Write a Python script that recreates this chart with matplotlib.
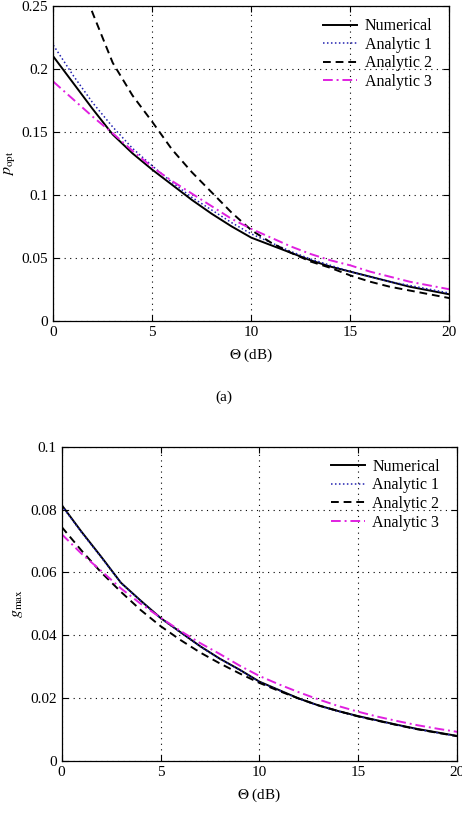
import matplotlib
matplotlib.use('Agg')
import matplotlib.pyplot as plt

# Theta (dB)
theta = [0, 1, 2, 3, 4, 5, 6, 7, 8, 9, 10, 11, 12, 13, 14, 15, 16, 17, 18, 19, 20]

# (a) p_opt
p_num = [0.210, 0.189, 0.168, 0.148, 0.133, 0.120, 0.108, 0.096, 0.085, 0.075, 0.066,
         0.060, 0.054, 0.048, 0.043, 0.039, 0.035, 0.031, 0.027, 0.024, 0.021]
p_an1 = [0.219, 0.195, 0.173, 0.154, 0.137, 0.123, 0.110, 0.098, 0.088, 0.078, 0.069,
         0.062, 0.055, 0.049, 0.044, 0.039, 0.035, 0.031, 0.028, 0.025, 0.022]
p_an2 = [0.330, 0.285, 0.244, 0.205, 0.179, 0.158, 0.136, 0.118, 0.102, 0.086, 0.072,
         0.062, 0.054, 0.047, 0.042, 0.036, 0.031, 0.027, 0.024, 0.021, 0.018]
p_an3 = [0.190, 0.176, 0.162, 0.149, 0.135, 0.122, 0.111, 0.101, 0.091, 0.081, 0.073,
         0.066, 0.059, 0.053, 0.048, 0.044, 0.039, 0.035, 0.031, 0.028, 0.025]

# (b) g_max
g_num = [0.0815, 0.0730, 0.0650, 0.0567, 0.0510, 0.0455, 0.0410, 0.0365, 0.0325, 0.0290, 0.0252,
         0.0225, 0.0198, 0.0176, 0.0158, 0.0142, 0.0128, 0.0114, 0.0101, 0.0090, 0.0079]
g_an1 = [0.0813, 0.0728, 0.0648, 0.0566, 0.0509, 0.0454, 0.0409, 0.0364, 0.0324, 0.0289, 0.0251,
         0.0224, 0.0197, 0.0175, 0.0157, 0.0141, 0.0127, 0.0113, 0.0100, 0.0089, 0.0078]
g_an2 = [0.0745, 0.0670, 0.0600, 0.0538, 0.0480, 0.0429, 0.0385, 0.0345, 0.0310, 0.0278, 0.0248,
         0.0222, 0.0198, 0.0176, 0.0158, 0.0141, 0.0127, 0.0113, 0.0100, 0.0089, 0.0078]
g_an3 = [0.0722, 0.0660, 0.0605, 0.0549, 0.0500, 0.0456, 0.0414, 0.0375, 0.0340, 0.0303, 0.0270,
         0.0243, 0.0218, 0.0195, 0.0174, 0.0156, 0.0140, 0.0126, 0.0113, 0.0102, 0.0092]

labels = ['Numerical', 'Analytic 1', 'Analytic 2', 'Analytic 3']

plt.rcParams['font.family'] = 'Liberation Serif'
plt.rcParams['mathtext.fontset'] = 'stix'
plt.rcParams['axes.linewidth'] = 0.9

fig = plt.figure(figsize=(4.62, 8.30), dpi=100)
ax1 = fig.add_axes([0.1154, 0.6136, 0.857, 0.379])
ax2 = fig.add_axes([0.1335, 0.0835, 0.856, 0.378])

c_blue = '#2020b0'
c_mag = '#e020e0'


def draw(ax, num, an1, an2, an3, ymax, yticks, yticklabels, ylabel):
    ax.plot(theta, num, color='black', linestyle='-', linewidth=1.4, label=labels[0])
    ax.plot(theta, an1, color=c_blue, linestyle=(0, (1, 1.6)), linewidth=1.1, label=labels[1])
    ax.plot(theta, an2, color='black', linestyle=(0, (4, 2.5)), linewidth=1.4, label=labels[2])
    ax.plot(theta, an3, color=c_mag, linestyle=(0, (5, 2, 1, 2)), linewidth=1.4, label=labels[3])
    ax.set_xlim(0, 20)
    ax.set_ylim(0, ymax)
    ax.set_xticks([0, 5, 10, 15, 20])
    ax.set_yticks(yticks)
    ax.set_yticklabels(yticklabels)
    ax.tick_params(direction='in', top=True, right=True, labelsize=11, length=4, width=0.8)
    ax.grid(True, color='black', linestyle=(0, (1, 4)), linewidth=0.8)
    ax.set_xlabel(r'$\Theta$ (dB)', fontsize=11, labelpad=6)
    ax.set_ylabel(ylabel, fontsize=11.5)
    ax.yaxis.set_label_coords(-0.092, 0.5)
    leg = ax.legend(loc='upper right', bbox_to_anchor=(0.965, 0.972), frameon=False, fontsize=11.5,
                    handlelength=2.1, handletextpad=0.5, labelspacing=0.16, borderaxespad=0.0,
                    borderpad=0.2)
    leg.set_zorder(5)


draw(ax1, p_num, p_an1, p_an2, p_an3, 0.25,
     [0, 0.05, 0.1, 0.15, 0.2, 0.25], ['0', '0.05', '0.1', '0.15', '0.2', '0.25'],
     r'$p_{\rm opt}$')
draw(ax2, g_num, g_an1, g_an2, g_an3, 0.1,
     [0, 0.02, 0.04, 0.06, 0.08, 0.1], ['0', '0.02', '0.04', '0.06', '0.08', '0.1'],
     r'$g_{\max}$')

fig.text(0.485, 1 - 397 / 830, '(a)', ha='center', va='center', fontsize=11)
fig.text(0.485, 1 - 842 / 830, '(b)', ha='center', va='center', fontsize=11)

fig.savefig('out.png', dpi=100)
